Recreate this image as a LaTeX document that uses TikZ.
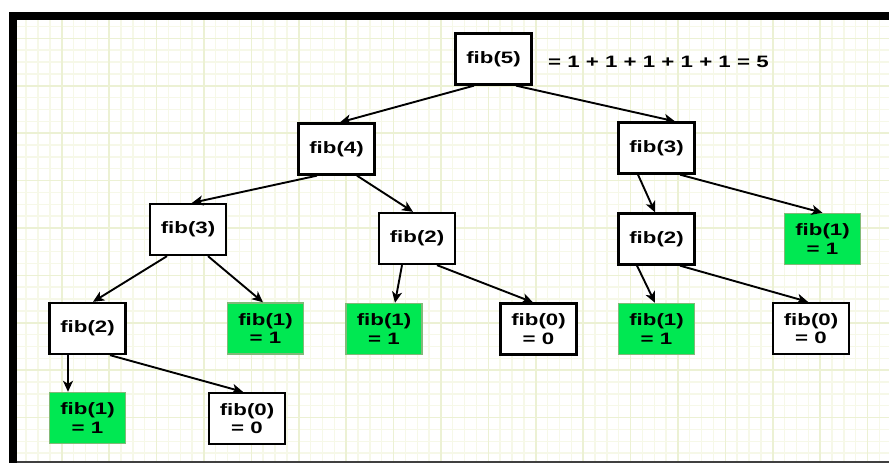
\documentclass[tikz,border=0pt]{standalone}
\usepackage{fontspec}
\setmainfont{Liberation Sans}[FakeStretch=1.35]
\usetikzlibrary{arrows.meta}
\definecolor{leafgreen}{RGB}{0,232,82}
\definecolor{leafedge}{RGB}{130,185,120}
\definecolor{gridminor}{RGB}{246,248,232}
\definecolor{gridmajor}{RGB}{236,241,212}
\tikzset{
  callbox/.style={draw=black, line width=2.3pt, fill=white, minimum width=76pt,
    minimum height=51pt, inner sep=0pt, align=center,
    font=\fontsize{16.5}{18.5}\selectfont\bfseries},
  leafbox/.style={callbox, fill=leafgreen, draw=leafedge, line width=1.4pt},
  zerobox/.style={callbox},
  calledge/.style={line width=1.9pt, -{Stealth[length=11pt,width=10pt,inset=3pt]}},
  minorline/.style={gridminor, line width=1.4pt},
  majorline/.style={gridmajor, line width=1.6pt},
}
\begin{document}
\begin{tikzpicture}[x=1pt,y=-1pt]
\useasboundingbox (0,0) rectangle (889,463);
\fill[white] (0,0) rectangle (889,463);

% graph paper
\begin{scope}
  \clip (17,20) rectangle (889,462);
  \foreach \i in {-5,...,70} {
    \draw[minorline] ({61.7+11.85*\i},20) -- ++(0,442);
  }
  \foreach \j in {-6,...,35} {
    \draw[minorline] (17,{85.7+11.85*\j}) -- ++(872,0);
  }
  \foreach \i in {-1,...,18} {
    \draw[majorline] ({61.7+47.4*\i},20) -- ++(0,442);
  }
  \foreach \j in {-2,...,8} {
    \draw[majorline] (17,{85.7+47.4*\j}) -- ++(872,0);
  }
\end{scope}

% frame
\fill[black] (9,12) rectangle (889,20);
\fill[black] (9,12) rectangle (17,463);
\draw[black!75, line width=1.5pt] (17,462.2) -- (889,462.2);

% call tree
\node[callbox] (n5)  at (493.5,59)  {fib(5)};
\node[callbox] (n4)  at (336.5,149) {fib(4)};
\node[callbox] (n3r) at (656.5,148) {fib(3)};
\node[callbox] (n3l) at (188,229.5) {fib(3)};
\node[callbox] (n2m) at (417,238.5) {fib(2)};
\node[callbox] (n2r) at (656.5,239) {fib(2)};
\node[leafbox] (n1r) at (822.5,239) {fib(1)\\= 1};
\node[callbox] (n2l) at (87.5,328.5) {fib(2)};
\node[leafbox] (n1a) at (265.5,328.5) {fib(1)\\= 1};
\node[leafbox] (n1b) at (384,329) {fib(1)\\= 1};
\node[zerobox] (n0a) at (538.5,329) {fib(0)\\= 0};
\node[leafbox] (n1c) at (656.5,329) {fib(1)\\= 1};
\node[zerobox] (n0b) at (811,328.5) {fib(0)\\= 0};
\node[leafbox] (n1d) at (87.5,418) {fib(1)\\= 1};
\node[zerobox] (n0c) at (247,418.5) {fib(0)\\= 0};

\node[anchor=west, inner sep=0pt, font=\fontsize{16.5}{18.5}\selectfont\bfseries]
  (sum) at (548,62) {= 1 + 1 + 1 + 1 + 1 = 5};

% calls
\draw[calledge] ([xshift=-19.5pt]n5.south) -- ([xshift=3.5pt]n4.north);
\draw[calledge] ([xshift=22.5pt]n5.south)  -- ([xshift=18.5pt]n3r.north);
\draw[calledge] ([xshift=-19.5pt]n4.south) -- ([xshift=4pt]n3l.north);
\draw[calledge] ([xshift=20.5pt]n4.south)  -- ([xshift=-4pt]n2m.north);
\draw[calledge] ([xshift=-21pt]n3l.south)  -- ([xshift=5.5pt]n2l.north);
\draw[calledge] ([xshift=20pt]n3l.south)   -- ([xshift=-2.5pt]n1a.north);
\draw[calledge] ([xshift=-15pt]n2m.south)  -- ([xshift=11pt]n1b.north);
\draw[calledge] ([xshift=20pt]n2m.south)   -- ([xshift=-5.5pt]n0a.north);
\draw[calledge] ([xshift=-18.5pt]n3r.south) -- ([xshift=-1.5pt]n2r.north);
\draw[calledge] ([xshift=23.5pt]n3r.south) -- (n1r.north);
\draw[calledge] ([xshift=-19.5pt]n2r.south) -- ([xshift=-1.5pt]n1c.north);
\draw[calledge] ([xshift=23.5pt]n2r.south) -- ([xshift=-3pt]n0b.north);
\draw[calledge] ([xshift=-19.5pt]n2l.south) -- ([xshift=-19.5pt]n1d.north);
\draw[calledge] ([xshift=22.5pt]n2l.south) -- ([xshift=-4pt]n0c.north);
\end{tikzpicture}
\end{document}
